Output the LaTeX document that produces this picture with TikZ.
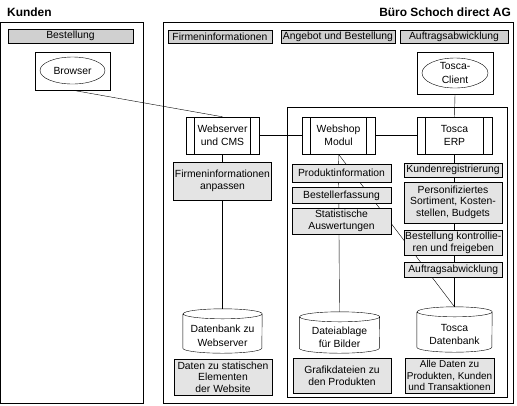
\documentclass[tikz,border=0pt]{standalone}
\usepackage{fontspec}
\setmainfont{Liberation Sans}
\usetikzlibrary{shapes.geometric,backgrounds}
\definecolor{hdrgray}{RGB}{208,208,208}
\definecolor{boxgray}{RGB}{228,228,228}
\tikzset{
  base/.style={font=\fontsize{10.4}{11.5}\selectfont, align=center, inner sep=0pt},
  hdr/.style={base, draw, fill=hdrgray, minimum height=13.5bp},
  gbox/.style={base, draw, fill=boxgray},
  procbox/.style={base, draw, fill=white, font=\fontsize{10.4}{13.5}\selectfont,
    minimum width=73bp, minimum height=37bp,
    path picture={\draw ([xshift=8.5bp]path picture bounding box.north west) -- ([xshift=8.5bp]path picture bounding box.south west)
      ([xshift=-8.5bp]path picture bounding box.north east) -- ([xshift=-8.5bp]path picture bounding box.south east);}},
  clientbox/.style={draw, fill=white, inner sep=0pt},
  oval/.style={base, draw, ellipse, fill=white, font=\fontsize{10.4}{13.5}\selectfont},
  cylbody/.style={base, font=\fontsize{10.4}{13.5}\selectfont},
  conn/.style={draw},
  titletext/.style={font=\fontsize{12}{14}\selectfont\bfseries, inner sep=0pt},
}
\newcommand\drawcyl[2]{%
  \draw ([yshift=5bp]#1.north west) -- ([yshift=5bp]#1.south west)
    arc[start angle=180,end angle=360,x radius=#2,y radius=5bp]
    -- ([yshift=5bp]#1.north east)
    arc[start angle=0,end angle=180,x radius=#2,y radius=5bp]
    arc[start angle=180,end angle=360,x radius=#2,y radius=5bp];}
\begin{document}
\begin{tikzpicture}[x=1bp,y=-1bp,line width=0.8bp]
\useasboundingbox (0,0) rectangle (517,405);
\begin{pgfonlayer}{background}
\fill[white] (0,0) rectangle (517,405);
\end{pgfonlayer}

% titles
\node[titletext, anchor=west] (kunden) at (7,12) {Kunden};
\node[titletext, anchor=east] (buero) at (511,12) {Büro Schoch direct AG};

% panels
\draw (0.5,22) rectangle (143,403);
\draw (163,22) rectangle (513,403);
\draw (287,107) rectangle (507,397);

% header bars
\node[hdr, minimum width=125bp] (hbest) at (70.5,36.25) {Bestellung};
\node[hdr, minimum width=104bp] (hfirm) at (220,36.5) {Firmeninformationen};
\node[hdr, minimum width=114bp] (hang) at (338,36.5) {Angebot und Bestellung};
\node[hdr, minimum width=108bp] (hauf) at (454,36.5) {Auftragsabwicklung};

% clients
\node[clientbox, minimum width=75bp, minimum height=38bp] (browserbox) at (72.5,71) {};
\node[oval, minimum width=65bp, minimum height=27bp] (browser) at (72.5,70.5) {Browser};
\node[clientbox, minimum width=76bp, minimum height=42bp] (tcbox) at (455,73) {};
\node[oval, minimum width=66bp, minimum height=30bp] (tclient) at (455,73) {Tosca-\\Client};

% process boxes
\node[procbox] (ws) at (222.5,135.5) {Webserver\\und CMS};
\node[procbox] (shop) at (338.5,135.5) {Webshop\\Modul};
\node[procbox, minimum width=75bp] (erp) at (454.5,135.5) {Tosca\\ERP};

% left column
\node[gbox, minimum width=98bp, minimum height=38bp] (fa) at (222.5,181) {Firmeninformationen\\anpassen};
\node[cylbody, minimum width=79bp, minimum height=34bp] (db1) at (222.5,336) {Datenbank zu\\Webserver};
\node[gbox, minimum width=98bp, minimum height=36bp] (dstat) at (223,377) {Daten zu statischen\\Elementen\\der Website};

% middle column
\node[gbox, minimum width=99bp, minimum height=17.5bp] (prod) at (341.5,173.25) {Produktinformation};
\node[gbox, minimum width=99bp, minimum height=16bp] (best) at (341.5,195.5) {Bestellerfassung};
\node[gbox, minimum width=99bp, minimum height=26bp] (stat) at (341.5,221) {Statistische\\Auswertungen};
\node[cylbody, minimum width=80bp, minimum height=31bp] (dfile) at (339.5,337.5) {Dateiablage\\für Bilder};
\node[gbox, minimum width=98bp, minimum height=35bp] (graf) at (342,375.75) {Grafikdateien zu\\den Produkten};

% right column
\node[gbox, minimum width=98bp, minimum height=14bp] (kunreg) at (453,169.75) {Kundenregistrierung};
\node[gbox, minimum width=98bp, minimum height=41bp] (pers) at (453,202.25) {Personifiziertes\\Sortiment, Kosten-\\stellen, Budgets};
\node[gbox, minimum width=98.5bp, minimum height=24.5bp] (kontr) at (453.25,242.75) {Bestellung kontrollie-\\ren und freigeben};
\node[gbox, minimum width=98.5bp, minimum height=15bp] (aufab) at (453.25,269.5) {Auftragsabwicklung};
\node[cylbody, minimum width=75bp, minimum height=35bp] (tdb) at (454.5,334.5) {Tosca\\Datenbank};
\node[gbox, minimum width=89bp, minimum height=35bp, font=\fontsize{10}{11.5}\selectfont] (alle) at (449.5,375.75) {Alle Daten zu\\Produkten, Kunden\\und Transaktionen};

% cylinders
\drawcyl{db1}{39.5bp}
\drawcyl{dfile}{40bp}
\drawcyl{tdb}{37.5bp}

% connectors
\begin{pgfonlayer}{background}
\draw[conn] (browserbox.south) -- (ws.north);
\draw[conn] (tcbox.south) -- (erp.north);
\draw[conn] (ws.east) -- (shop.west);
\draw[conn] (shop.east) -- (erp.west);
\draw[conn] (ws.south) -- ([yshift=10bp]db1.north);
\draw[conn] (shop.south) -- ([yshift=10bp]dfile.north);
\draw[conn] (erp.south) -- ([yshift=10bp]tdb.north);
\draw[conn] (shop.south) -- ([yshift=10bp]tdb.north);
\end{pgfonlayer}
\end{tikzpicture}
\end{document}
